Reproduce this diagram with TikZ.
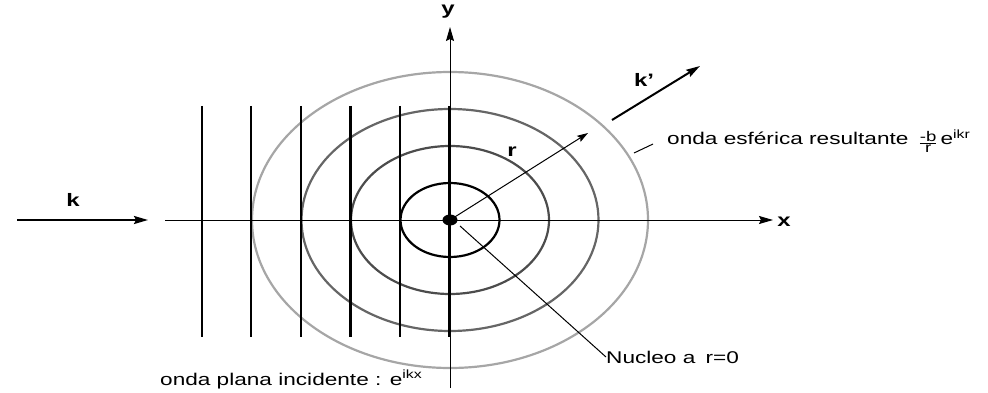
\documentclass[tikz,border=0pt]{standalone}
\usepackage{fontspec}
\setmainfont{Liberation Sans}[FakeStretch=1.33]
\usetikzlibrary{arrows.meta}
\begin{document}
\begin{tikzpicture}[x=1pt,y=-1pt,
  lbl/.style={font=\fontsize{17}{19}\selectfont, inner sep=0pt},
  vec/.style={font=\bfseries\fontsize{18}{20}\selectfont, inner sep=0pt},
  tip/.style={-{Stealth[length=14pt,width=8pt,inset=2pt]}},
  smalltip/.style={-{Stealth[length=11pt,width=7pt,inset=2pt]}},
  axis/.style={line width=1pt},
  wave/.style={line width=2.4pt},
  ring/.style={line width=2.2pt},
  thick vec/.style={line width=2pt}]
\path[use as bounding box] (0,0) rectangle (988,393);
\coordinate (O) at (450,220);
% spherical wavefronts
\draw[ring, draw=black!70] (O) ellipse [x radius=99, y radius=74];
\draw[ring, draw=black!60] (O) ellipse [x radius=148.5, y radius=111];
\draw[ring, draw=black!35] (O) ellipse [x radius=198, y radius=148];
% plane wavefronts
\foreach \i in {0,...,5}
  \draw[wave] ({201.7+49.56*\i},106) -- ({201.7+49.56*\i},337);
\draw[ring, draw=black] (O) ellipse [x radius=49.5, y radius=37];
% axes
\coordinate (xs) at (165,220);
\coordinate (xe) at (773,220);
\coordinate (ys) at (450,388);
\coordinate (ye) at (450,27);
\draw[axis, tip] (xs) -- (xe);
\draw[axis, tip] (ys) -- (ye);
\node[vec] (xl) at (784,222) {x};
\node[vec] (yl) at (448,12) {y};
% nucleus
\fill (O) ellipse [x radius=7.5, y radius=5.5];
% incident k
\coordinate (ks) at (17,220);
\coordinate (ke) at (148,220);
\draw[thick vec, tip] (ks) -- (ke);
\node[vec] (kl) at (73,200) {k};
% scattered k'
\coordinate (kps) at (612,120);
\coordinate (kpe) at (700,66);
\draw[thick vec, tip] (kps) -- (kpe);
\node[vec] (kpl) at (644,80) {k’};
% r vector
\coordinate (re) at (588,133);
\draw[axis, smalltip] (O) -- (re);
\node[vec] (rl) at (512,152) {r};
% nucleus label
\coordinate (ns) at (460,226);
\node[lbl, anchor=west] (nuc) at (606,357) {Nucleo a\hspace{0.6em}r=0};
\draw[axis] (ns) -- (nuc.west);
% spherical wave label
\coordinate (es) at (634,153);
\node[lbl, anchor=base west] (esf) at (667,145) {onda esférica resultante\hspace{0.6em}{\fontsize{14}{14}\selectfont\raisebox{-0.15em}{$\frac{\mbox{-b}}{\mbox{r}}$}}\,e\textsuperscript{ikr}};
\draw[axis] (es) -- (653,144);
% plane wave label
\node[lbl, anchor=base west] (pla) at (160,385) {onda plana incidente : e\textsuperscript{ikx}};
\end{tikzpicture}
\end{document}
